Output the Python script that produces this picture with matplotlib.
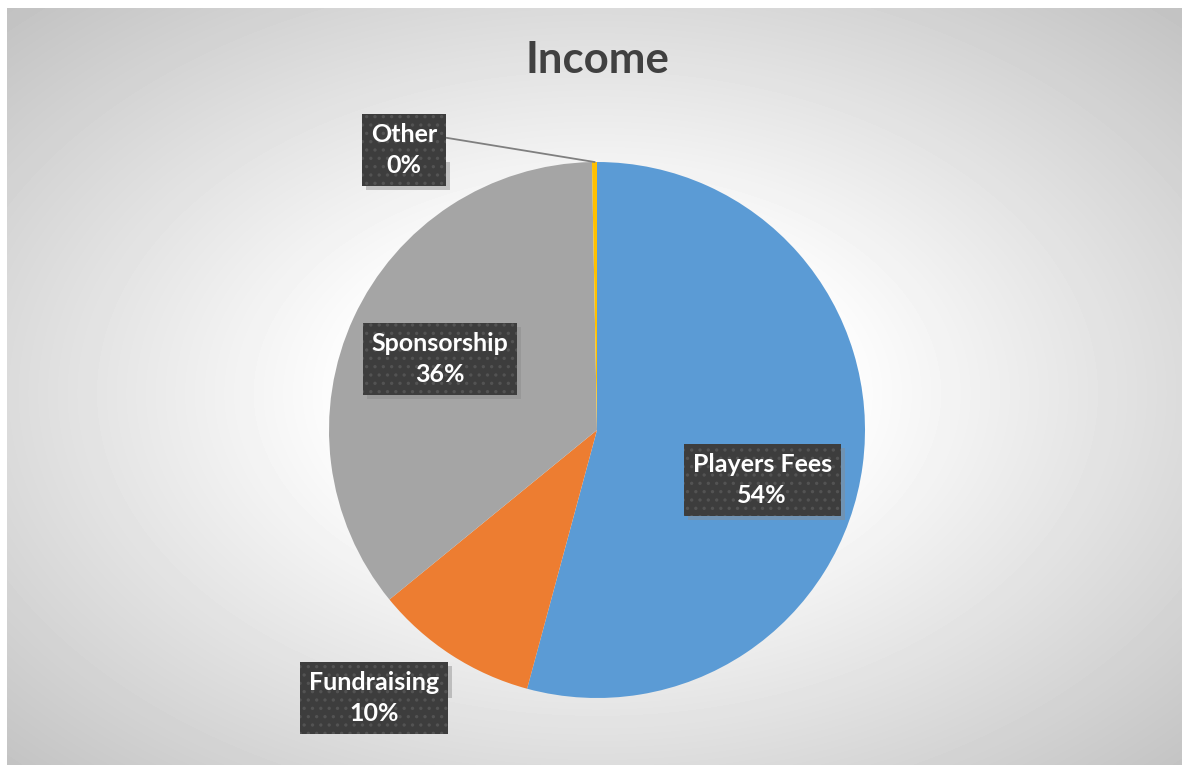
import numpy as np
import matplotlib

matplotlib.use("Agg")

import matplotlib.pyplot as plt
import matplotlib.patches as mpatches
import matplotlib.transforms as mtransforms

# data
categories = ["Players Fees", "Fundraising", "Sponsorship", "Other"]
income = [5420, 990, 3560, 30]
colors = ["#5B9BD5", "#ED7D31", "#A5A5A5", "#FFC000"]

# label box centres (pie data coords) - moved by hand in the original
label_pos = [(0.616, -0.187), (-0.832, -1.0), (-0.586, 0.265), (-0.72, 1.045)]

W, H = 1182, 765
plt.rcParams["font.family"] = ["Lato", "DejaVu Sans"]
plt.rcParams["hatch.linewidth"] = 1.2

fig = plt.figure(figsize=(W / 100, H / 100), dpi=100)
fig.patch.set_facecolor("white")

# radial gradient background
bg = fig.add_axes((7 / W, 0, 1 - 7 / W, 1 - 8 / H))
bg.set_axis_off()
yy, xx = np.mgrid[0:757, 0:1175]
r = np.sqrt(((xx - 590) / 590.0) ** 2 + ((yy - 385) / 380.0) ** 2)
v = (255 - 60 * np.clip(r - 0.4, 0, None)) / 255.0
bg.imshow(v, cmap="gray", vmin=0, vmax=1, aspect="auto", interpolation="bilinear")

# pie
cx, cy, rad = 597, 430, 268
ax = fig.add_axes(((cx - rad) / W, (H - cy - rad) / H, 2 * rad / W, 2 * rad / H))
wedges, _ = ax.pie(income, colors=colors, startangle=90, counterclock=False,
                   radius=1, wedgeprops=dict(linewidth=0))
ax.set_xlim(-1, 1)
ax.set_ylim(-1, 1)
ax.set_axis_off()

total = sum(income)
labels = []
for wedge, name, val, (lx, ly) in zip(wedges, categories, income, label_pos):
    label = name + "\n" + "%d%%" % round(val / total * 100)
    t = ax.text(lx, ly, label, color="white", zorder=5, ha="center", va="center",
                fontsize=18, fontweight="bold", linespacing=1.45,
                bbox=dict(boxstyle="square,pad=0.36", facecolor="#3d3d3d",
                          edgecolor="#535353", linewidth=0, hatch=".."))
    labels.append(t)
    if name == "Other":
        mid = np.deg2rad((wedge.theta1 + wedge.theta2) / 2)
        ax.plot([lx + 0.16, np.cos(mid)], [ly + 0.045, np.sin(mid)],
                color="#7f7f7f", linewidth=1.3, zorder=3, clip_on=False)

# drop shadows behind the label boxes
fig.canvas.draw()
renderer = fig.canvas.get_renderer()
for t in labels:
    bb = t.get_bbox_patch().get_window_extent(renderer)
    shadow = mpatches.Rectangle((bb.x0 + 4, bb.y0 - 4), bb.width, bb.height,
                                transform=mtransforms.IdentityTransform(),
                                facecolor="#8a8a8a", alpha=0.45, linewidth=0, zorder=4)
    ax.add_artist(shadow)

fig.text(cx / W, (H - 73) / H, "Income", ha="center", va="baseline",
         fontsize=31.5, fontweight="bold", color="#404040")

fig.savefig("out.png", dpi=100)
